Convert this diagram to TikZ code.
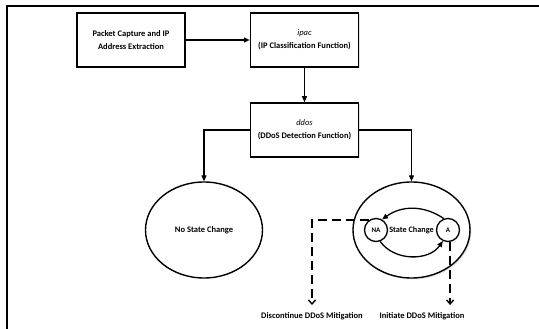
\documentclass[tikz,border=0pt]{standalone}
\usepackage{fontspec}
\setmainfont{Carlito}
\usetikzlibrary{arrows.meta,shapes.geometric,shadows}
\begin{document}
\begin{tikzpicture}[x=1pt,y=-1pt,
  every node/.style={font=\fontsize{8.5}{13}\selectfont\bfseries},
  procbox/.style={draw,line width=1.5pt,minimum width=108pt,minimum height=54pt,inner sep=0pt,align=center,fill=white,
    drop shadow={shadow xshift=1.3pt,shadow yshift=-1.3pt,opacity=0.25}},
  stateell/.style={draw,ellipse,line width=1.4pt,minimum width=117pt,minimum height=96pt,inner sep=0pt,fill=white},
  smallstate/.style={draw,circle,line width=1.3pt,minimum size=23pt,inner sep=0pt,font=\fontsize{7}{8}\selectfont\bfseries},
  flow/.style={line width=1.3pt,-{Triangle[length=6pt,width=5pt]}},
  dashflow/.style={line width=1.4pt,dash pattern=on 9pt off 5pt,-{Straight Barb[length=4pt,width=7pt]}},
  lbl/.style={inner sep=0pt,anchor=north}
]
\useasboundingbox (0,0) rectangle (539,329);
\draw[line width=1.5pt] (7,340) -- (7,6) -- (545,6);

\node[procbox] (pc) at (131,40) {Packet Capture and IP\\Address Extraction};
\node[procbox] (ipac) at (304.5,40) {{\mdseries\itshape ipac}\\(IP Classification Function)};
\node[procbox] (ddos) at (304.5,130) {{\mdseries\itshape ddos}\\(DDoS Detection Function)};

\node[stateell] (nsc) at (204,230) {No State Change};
\node[stateell,font=\fontsize{8.2}{10}\selectfont\bfseries,drop shadow={shadow xshift=1.5pt,shadow yshift=-1.5pt,opacity=0.2}] (sc) at (411.5,230) {State Change};
\node[smallstate] (na) at (376,230) {NA};
\node[smallstate] (a) at (448,230) {A};

\node[lbl] (disc) at (312,312) {Discontinue DDoS Mitigation};
\node[lbl] (init) at (422,312) {Initiate DDoS Mitigation};

\draw[flow] (pc) -- (ipac);
\draw[line width=0.9pt,-{Triangle[length=6pt,width=5pt]}] (ipac) -- (ddos);
\draw[flow] (ddos.west) -| (nsc.north);
\draw[flow] (ddos.east) -| (sc.north);

\draw[line width=1.3pt,-{Triangle[length=6pt,width=5pt]}] (a.110) to[bend right=35] (na.60);
\draw[line width=1.3pt,-{Triangle[length=6pt,width=5pt]}] (na.-70) to[bend right=55] (a.-115);

\draw[dashflow] (na.125) -| ([yshift=7pt]disc.north);
\draw[dashflow] (a.-80) -- ([yshift=7pt]a.-80 |- init.north);
\end{tikzpicture}
\end{document}
